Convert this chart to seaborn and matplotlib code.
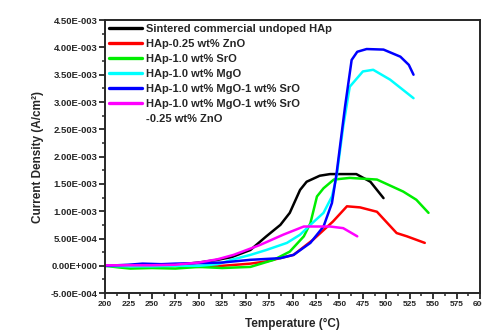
import matplotlib
matplotlib.use("Agg")
import matplotlib.pyplot as plt
import seaborn as sns
import pandas as pd
import numpy as np
from matplotlib.ticker import MultipleLocator, FuncFormatter
from matplotlib.lines import Line2D

# ---- data (current density in A/cm^2; values x1e-3) ----
black_T = [200, 225, 250, 275, 300, 320, 335, 355, 372, 387, 397, 408, 415, 429, 440, 468, 483, 497]
black_J = [0.0, 0.01, 0.0, 0.02, 0.06, 0.11, 0.16, 0.29, 0.54, 0.75, 0.97, 1.39, 1.54, 1.65, 1.68, 1.68, 1.54, 1.24]

red_T = [200, 225, 250, 275, 300, 325, 355, 372, 401, 422, 443, 458, 472, 490, 511, 522, 541]
red_J = [0.0, 0.0, -0.01, 0.0, -0.02, 0.0, 0.04, 0.08, 0.2, 0.48, 0.81, 1.09, 1.07, 0.99, 0.6, 0.54, 0.42]

green_T = [200, 215, 227, 250, 275, 300, 325, 355, 380, 397, 412, 419, 426, 433, 444, 461, 490, 518, 532, 545]
green_J = [0.0, -0.03, -0.05, -0.04, -0.05, -0.02, -0.04, -0.02, 0.11, 0.26, 0.54, 0.78, 1.27, 1.42, 1.58, 1.61, 1.58, 1.36, 1.21, 0.97]

cyan_T = [200, 225, 250, 275, 300, 320, 337, 355, 372, 394, 408, 419, 433, 442, 447, 454, 461, 475, 486, 504, 529]
cyan_J = [0.0, -0.01, -0.01, 0.0, 0.0, 0.03, 0.12, 0.2, 0.29, 0.42, 0.57, 0.75, 0.97, 1.27, 1.64, 2.55, 3.28, 3.56, 3.59, 3.41, 3.07]

blue_T = [200, 225, 240, 260, 275, 300, 325, 355, 387, 401, 419, 433, 442, 447, 456, 463, 469, 479, 497, 515, 524, 529]
blue_J = [0.0, 0.02, 0.04, 0.03, 0.04, 0.05, 0.06, 0.11, 0.14, 0.2, 0.42, 0.72, 1.15, 1.7, 2.92, 3.77, 3.92, 3.97, 3.96, 3.83, 3.68, 3.5]

mag_T = [200, 225, 250, 275, 300, 320, 337, 365, 390, 412, 440, 454, 461, 469]
mag_J = [0.01, 0.01, 0.01, 0.02, 0.06, 0.12, 0.2, 0.38, 0.57, 0.72, 0.72, 0.69, 0.62, 0.54]

series_names = [
    "Sintered commercial undoped HAp",
    "HAp-0.25 wt% ZnO",
    "HAp-1.0 wt% SrO",
    "HAp-1.0 wt% MgO",
    "HAp-1.0 wt% MgO-1 wt% SrO",
    "HAp-1.0 wt% MgO-1 wt% SrO",
]
extra_line = "-0.25 wt% ZnO"
colors = ["#000000", "#ff0000", "#00ee00", "#00ffff", "#0000ff", "#ff00ff"]
x_ticks = list(range(200, 601, 25))

all_T = [black_T, red_T, green_T, cyan_T, blue_T, mag_T]
all_J = [black_J, red_J, green_J, cyan_J, blue_J, mag_J]

frames = []
for i, (T, J) in enumerate(zip(all_T, all_J)):
    frames.append(pd.DataFrame({"T": T, "J": np.array(J) * 1e-3, "s": i}))
df = pd.concat(frames, ignore_index=True)

sns.set_style("ticks")
plt.rcParams["font.family"] = ["Liberation Sans", "DejaVu Sans"]
plt.rcParams["font.weight"] = "bold"

fig = plt.figure(figsize=(4.82, 3.35), dpi=100)
ax = fig.add_axes([0.218, 0.125, 0.778, 0.815])

handles = []
for i in range(6):
    sub = df[df["s"] == i]
    sns.lineplot(data=sub, x="T", y="J", color=colors[i], lw=1.8, sort=False,
                 ax=ax, estimator=None, legend=False)
    handles.append(Line2D([], [], color=colors[i], lw=2.4))

ax.set_xlim(200, 600)
ax.set_ylim(-5e-4, 4.5e-3)
ax.set_xticks(x_ticks)
ax.xaxis.set_minor_locator(MultipleLocator(12.5))
ax.yaxis.set_major_locator(MultipleLocator(5e-4))
ax.yaxis.set_minor_locator(MultipleLocator(2.5e-4))


def efmt(v, pos):
    if abs(v) < 1e-12:
        return "0.00E+000"
    e = int(np.floor(np.log10(abs(v))))
    m = v / 10 ** e
    return f"{m:.2f}E{'+' if e >= 0 else '-'}{abs(e):03d}"


ax.yaxis.set_major_formatter(FuncFormatter(efmt))
ax.tick_params(axis="both", which="major", length=4, width=1.3, direction="out", pad=1.5)
ax.tick_params(axis="x", which="major", labelsize=6)
ax.tick_params(axis="y", which="major", labelsize=6.8)
ax.tick_params(axis="both", which="minor", length=2.5, width=1.1, direction="out")
for lab in ax.get_xticklabels() + ax.get_yticklabels():
    lab.set_fontweight("bold")
for sp in ax.spines.values():
    sp.set_linewidth(1.4)

ax.set_xlabel("Temperature (\u00b0C)", fontsize=8.5, fontweight="bold", labelpad=7)
ax.set_ylabel("Current Density (A/cm\u00b2)", fontsize=8.5, fontweight="bold", labelpad=5)

labels = list(series_names) + [extra_line]
handles.append(Line2D([], [], color="none", lw=0))
leg = ax.legend(handles, labels, loc="upper left", bbox_to_anchor=(0.0, 1.0),
                frameon=False, handlelength=3.0, handletextpad=0.3,
                labelspacing=0.45, borderpad=0.15, borderaxespad=0.2,
                prop={"weight": "bold", "size": 8})

fig.savefig("out.png", dpi=100)
